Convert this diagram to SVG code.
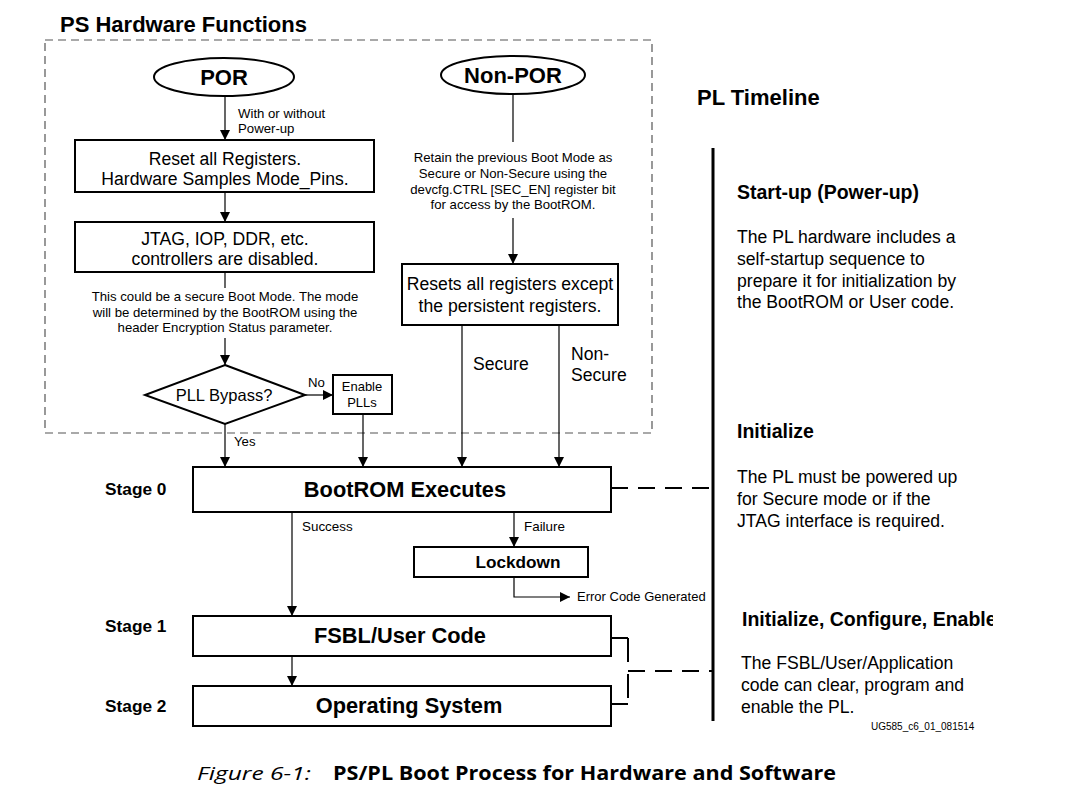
<svg xmlns="http://www.w3.org/2000/svg" width="1072" height="803" viewBox="0 0 1072 803">
<defs>
<marker id="arr" viewBox="0 0 10 10" refX="10" refY="5" markerWidth="10" markerHeight="10" markerUnits="userSpaceOnUse" orient="auto">
<path d="M0,0 L10,5 L0,10 Z" fill="#000"/>
</marker>
<clipPath id="clipR"><rect x="0" y="0" width="993" height="803"/></clipPath>
<style>
text{font-family:"Liberation Sans",Arial,sans-serif;fill:#000}
.box{fill:#fff;stroke:#000;stroke-width:2}
.ln{fill:none;stroke:#000;stroke-width:1.2}
.b{font-weight:bold}
.c{text-anchor:middle}
.t16{font-size:17.6px}
.t11{font-size:13.2px}
.big{font-size:21.8px;font-weight:bold}
.body{font-size:17.6px}
.head{font-size:19.5px;font-weight:bold}
.stage{font-size:17.3px;font-weight:bold}
.dash{fill:none;stroke:#000;stroke-width:2;stroke-dasharray:17 10}
</style>
</defs>
<rect width="1072" height="803" fill="#fff"/>

<g id="ps-frame">
<rect x="45" y="40" width="607" height="393" fill="none" stroke="#555" stroke-width="1.2" stroke-dasharray="8 5"/>
<text x="60" y="32" style="font-size:22px;font-weight:bold">PS Hardware Functions</text>
</g>

<g id="connectors">
<line class="ln" x1="225" y1="96" x2="225" y2="140" marker-end="url(#arr)"/>
<line class="ln" x1="225" y1="192" x2="225" y2="222" marker-end="url(#arr)"/>
<line class="ln" x1="225" y1="272" x2="225" y2="288"/>
<line class="ln" x1="225" y1="338" x2="225" y2="365" marker-end="url(#arr)"/>
<line class="ln" x1="305" y1="395" x2="333" y2="395" marker-end="url(#arr)"/>
<line class="ln" x1="225" y1="424" x2="225" y2="467" marker-end="url(#arr)"/>
<line class="ln" x1="363" y1="414" x2="363" y2="467" marker-end="url(#arr)"/>
<line class="ln" x1="513" y1="95" x2="513" y2="142"/>
<line class="ln" x1="513" y1="218" x2="513" y2="264" marker-end="url(#arr)"/>
<line class="ln" x1="462" y1="325" x2="462" y2="467" marker-end="url(#arr)"/>
<line class="ln" x1="559" y1="325" x2="559" y2="467" marker-end="url(#arr)"/>
<line class="ln" x1="292" y1="512" x2="292" y2="616" marker-end="url(#arr)"/>
<line class="ln" x1="514" y1="512" x2="514" y2="547" marker-end="url(#arr)"/>
<polyline class="ln" points="514,577 514,597 570,597" marker-end="url(#arr)"/>
<line class="ln" x1="292" y1="656" x2="292" y2="686" marker-end="url(#arr)"/>
<line class="dash" x1="611" y1="488" x2="713" y2="488"/>
<line stroke="#000" stroke-width="2" x1="611" y1="638" x2="628" y2="638"/>
<line stroke="#000" stroke-width="2" x1="611" y1="704" x2="628" y2="704"/>
<line fill="none" stroke="#000" stroke-width="2" stroke-dasharray="24 12" x1="628" y1="638" x2="628" y2="704"/>
<line class="dash" x1="628" y1="671" x2="713" y2="671"/>
<text x="238" y="118" class="t11">With or without</text>
<text x="238" y="133" class="t11">Power-up</text>
<text x="308" y="387" class="t11">No</text>
<text x="234" y="446" class="t11">Yes</text>
<text x="473" y="370" class="t16">Secure</text>
<text x="571" y="360" class="t16">Non-</text>
<text x="571" y="381" class="t16">Secure</text>
<text x="302" y="531" style="font-size:13.4px">Success</text>
<text x="524" y="531" style="font-size:13.4px">Failure</text>
<text x="577" y="601" style="font-size:13px">Error Code Generated</text>
</g>

<g id="por">
<ellipse cx="224" cy="77" rx="70" ry="19" class="box"/>
<text x="224" y="85" class="c" style="font-size:22px;font-weight:bold">POR</text>
</g>

<g id="nonpor">
<ellipse cx="513" cy="75" rx="72" ry="19" class="box"/>
<text x="513" y="83" class="c" style="font-size:22px;font-weight:bold">Non-POR</text>
</g>

<g id="reset">
<rect x="75" y="140" width="299" height="52" class="box"/>
<text x="225" y="165" class="c t16">Reset all Registers.</text>
<text x="225" y="185" class="c t16">Hardware Samples Mode_Pins.</text>
</g>

<g id="jtag">
<rect x="75" y="222" width="299" height="50" class="box"/>
<text x="225" y="245" class="c t16">JTAG, IOP, DDR, etc.</text>
<text x="225" y="265" class="c t16">controllers are disabled.</text>
</g>

<g id="secure-note">
<text x="225" y="301" class="c t11">This could be a secure Boot Mode. The mode</text>
<text x="225" y="317" class="c t11">will be determined by the BootROM using the</text>
<text x="225" y="332" class="c t11">header Encryption Status parameter.</text>
</g>

<g id="pll-bypass">
<polygon points="225,365 305,395 225,424 145,395" class="box"/>
<text x="224" y="401" class="c" style="font-size:16.5px">PLL Bypass?</text>
</g>

<g id="enable-plls">
<rect x="333" y="375" width="59" height="39" class="box"/>
<text x="362" y="391" class="c" style="font-size:13px">Enable</text>
<text x="362" y="407" class="c" style="font-size:13px">PLLs</text>
</g>

<g id="retain-note">
<text x="513" y="162" class="c t11">Retain the previous Boot Mode as</text>
<text x="513" y="178" class="c t11">Secure or Non-Secure using the</text>
<text x="513" y="194" class="c t11">devcfg.CTRL [SEC_EN] register bit</text>
<text x="513" y="209" class="c t11">for access by the BootROM.</text>
</g>

<g id="resets">
<rect x="402" y="264" width="216" height="61" class="box"/>
<text x="510" y="290" class="c t16">Resets all registers except</text>
<text x="510" y="312" class="c t16">the persistent registers.</text>
</g>

<g id="bootrom">
<rect x="193" y="467" width="418" height="45" class="box"/>
<text x="405" y="497" class="c big">BootROM Executes</text>
<text x="105" y="495" class="stage">Stage 0</text>
</g>

<g id="lockdown">
<rect x="414" y="547" width="174" height="30" class="box"/>
<text x="518" y="568" class="c b" style="font-size:17.2px">Lockdown</text>
</g>

<g id="fsbl">
<rect x="193" y="616" width="418" height="40" class="box"/>
<text x="400" y="643" class="c big">FSBL/User Code</text>
<text x="105" y="632" class="stage">Stage 1</text>
</g>

<g id="os">
<rect x="193" y="686" width="418" height="40" class="box"/>
<text x="409" y="713" class="c big">Operating System</text>
<text x="105" y="712" class="stage">Stage 2</text>
</g>

<g id="timeline">
<text x="697" y="105" style="font-size:22px;font-weight:bold">PL Timeline</text>
<line x1="713" y1="148" x2="713" y2="721" stroke="#000" stroke-width="3"/>
<text x="737" y="199" class="head">Start-up (Power-up)</text>
<text x="737" y="243" class="body">The PL hardware includes a</text>
<text x="737" y="265" class="body">self-startup sequence to</text>
<text x="737" y="287" class="body">prepare it for initialization by</text>
<text x="737" y="308" class="body">the BootROM or User code.</text>
<text x="737" y="438" class="head">Initialize</text>
<text x="737" y="483" class="body">The PL must be powered up</text>
<text x="737" y="505" class="body">for Secure mode or if the</text>
<text x="737" y="527" class="body">JTAG interface is required.</text>
<g clip-path="url(#clipR)">
<text x="742" y="626" class="head">Initialize, Configure, Enable</text>
</g>
<text x="741" y="669" class="body">The FSBL/User/Application</text>
<text x="741" y="691" class="body">code can clear, program and</text>
<text x="741" y="713" class="body">enable the PL.</text>
<text x="871" y="730" style="font-size:10px">UG585_c6_01_081514</text>
</g>

<g id="caption">
<text x="197" y="780" style="font-family:'Open Sans','Noto Sans',sans-serif;font-size:19px;font-style:italic" textLength="114" lengthAdjust="spacingAndGlyphs">Figure 6-1:</text>
<text x="333" y="780" style="font-family:'Open Sans','Noto Sans',sans-serif;font-size:19px;font-weight:bold" textLength="503" lengthAdjust="spacingAndGlyphs">PS/PL Boot Process for Hardware and Software</text>
</g>
</svg>
